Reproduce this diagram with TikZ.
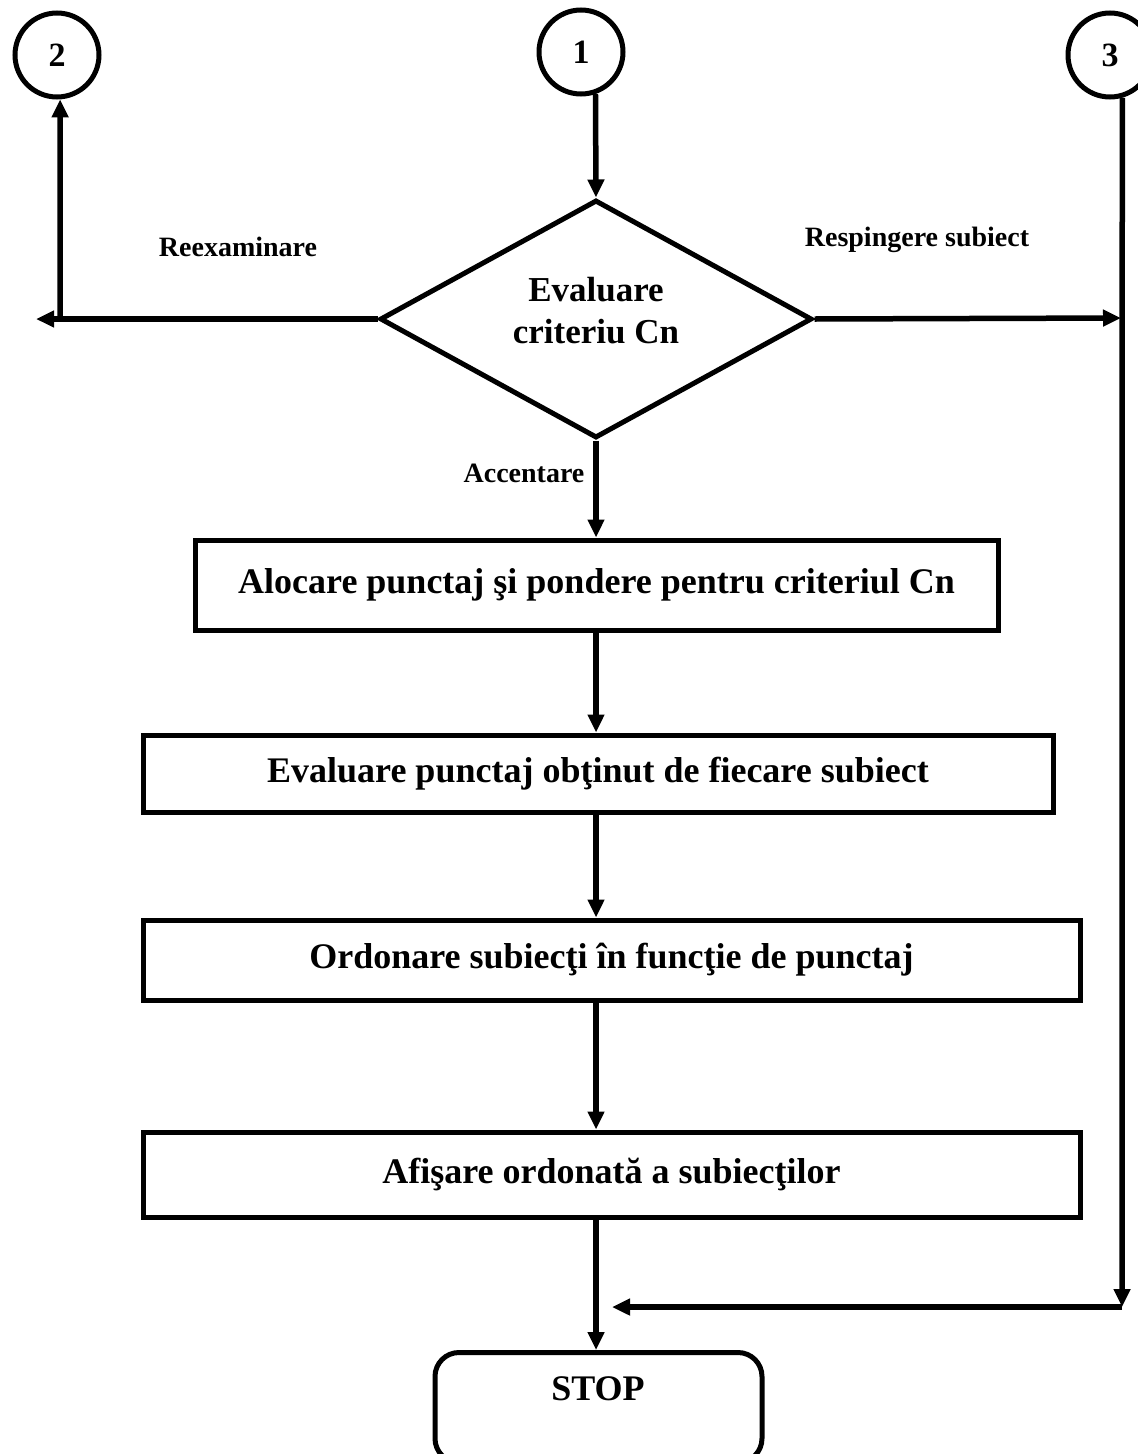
\documentclass[tikz,border=0pt]{standalone}
\usepackage{fontspec}
\setmainfont{Liberation Serif}
\usetikzlibrary{shapes.geometric,arrows.meta}
\begin{document}
\begin{tikzpicture}[x=1pt,y=-1pt,
  every node/.style={font=\bfseries},
  flow/.style={line width=5.5pt},
  arr/.style={flow,-{Triangle[length=18pt,width=16pt]}},
  stepbox/.style={draw,line width=5pt,inner sep=0pt,
    font=\bfseries\fontsize{36}{42}\selectfont},
  conn/.style={draw,circle,line width=5pt,minimum size=84pt,inner sep=0pt,
    font=\bfseries\fontsize{34}{40}\selectfont},
  decide/.style={draw,diamond,line width=5pt,minimum width=432pt,minimum height=238pt,
    inner sep=0pt},
  lbl/.style={font=\bfseries\fontsize{28}{32}\selectfont}]
\clip (0,0) rectangle (1138,1454);
\fill[white] (0,0) rectangle (1138,1454);

% connectors (off-page references)
\node[conn] (c1) at (581,52) {1};
\node[conn] (c2) at (57,55) {2};
\node[conn] (c3) at (1110,55) {3};

% decision
\node[decide] (d) at (596,319) {};
\node[align=center,font=\bfseries\fontsize{35}{42}\selectfont] (dtxt) at (596,311) {Evaluare\\criteriu Cn};

% process steps
\node[stepbox,minimum width=803pt,minimum height=90pt] (b1) at (596.5,585) {Alocare punctaj şi pondere pentru criteriul Cn};
\node[stepbox,minimum width=910pt,minimum height=77pt] (b2) at (598,773.5) {Evaluare punctaj obţinut de fiecare subiect};
\node[stepbox,minimum width=937pt,minimum height=80pt] (b3) at (611.5,960) {Ordonare subiecţi în funcţie de punctaj};
\node[stepbox,minimum width=937pt,minimum height=85pt] (b4) at (611.5,1174.5) {Afişare ordonată a subiecţilor};

% terminal
\node[stepbox,rounded corners=24pt,minimum width=327pt,minimum height=110pt,anchor=north] (stop) at (598.5,1350) {};
\node[font=\bfseries\fontsize{36}{42}\selectfont] (stoptxt) at (598,1389) {STOP};

% branch labels
\node[lbl] (lre) at (238,247) {Reexaminare};
\node[lbl] (lrs) at (917,240) {Respingere subiect};
\node[lbl] (lac) at (524,473) {Accentare};

% helper points
\coordinate (lt) at (36,319);
\coordinate (lc) at (60,319);
\coordinate (rt) at (1121,318);
\coordinate (rb) at (1122,1307);
\coordinate (mt) at (612,1307);

% main flow
\draw[arr] (c1.-71) -- (d.north);
\draw[arr] (d.south) -- (b1.north -| d.south);
\draw[arr] (b1.south -| d.south) -- (b2.north -| d.south);
\draw[arr] (b2.south -| d.south) -- (b3.north -| d.south);
\draw[arr] (b3.south -| d.south) -- (b4.north -| d.south);
\draw[arr] (b4.south -| d.south) -- (stop.north -| d.south);

% re-examination branch
\draw[arr] (d.west) -- (lt);
\draw[arr] ([yshift=2.5pt]lc) -- (c2.-86);

% rejection branch
\draw[arr] (d.east) -- (rt);
\draw[arr] (c3.-74) -- (rb);
\draw[arr] (rb) -- (mt);
\end{tikzpicture}
\end{document}
